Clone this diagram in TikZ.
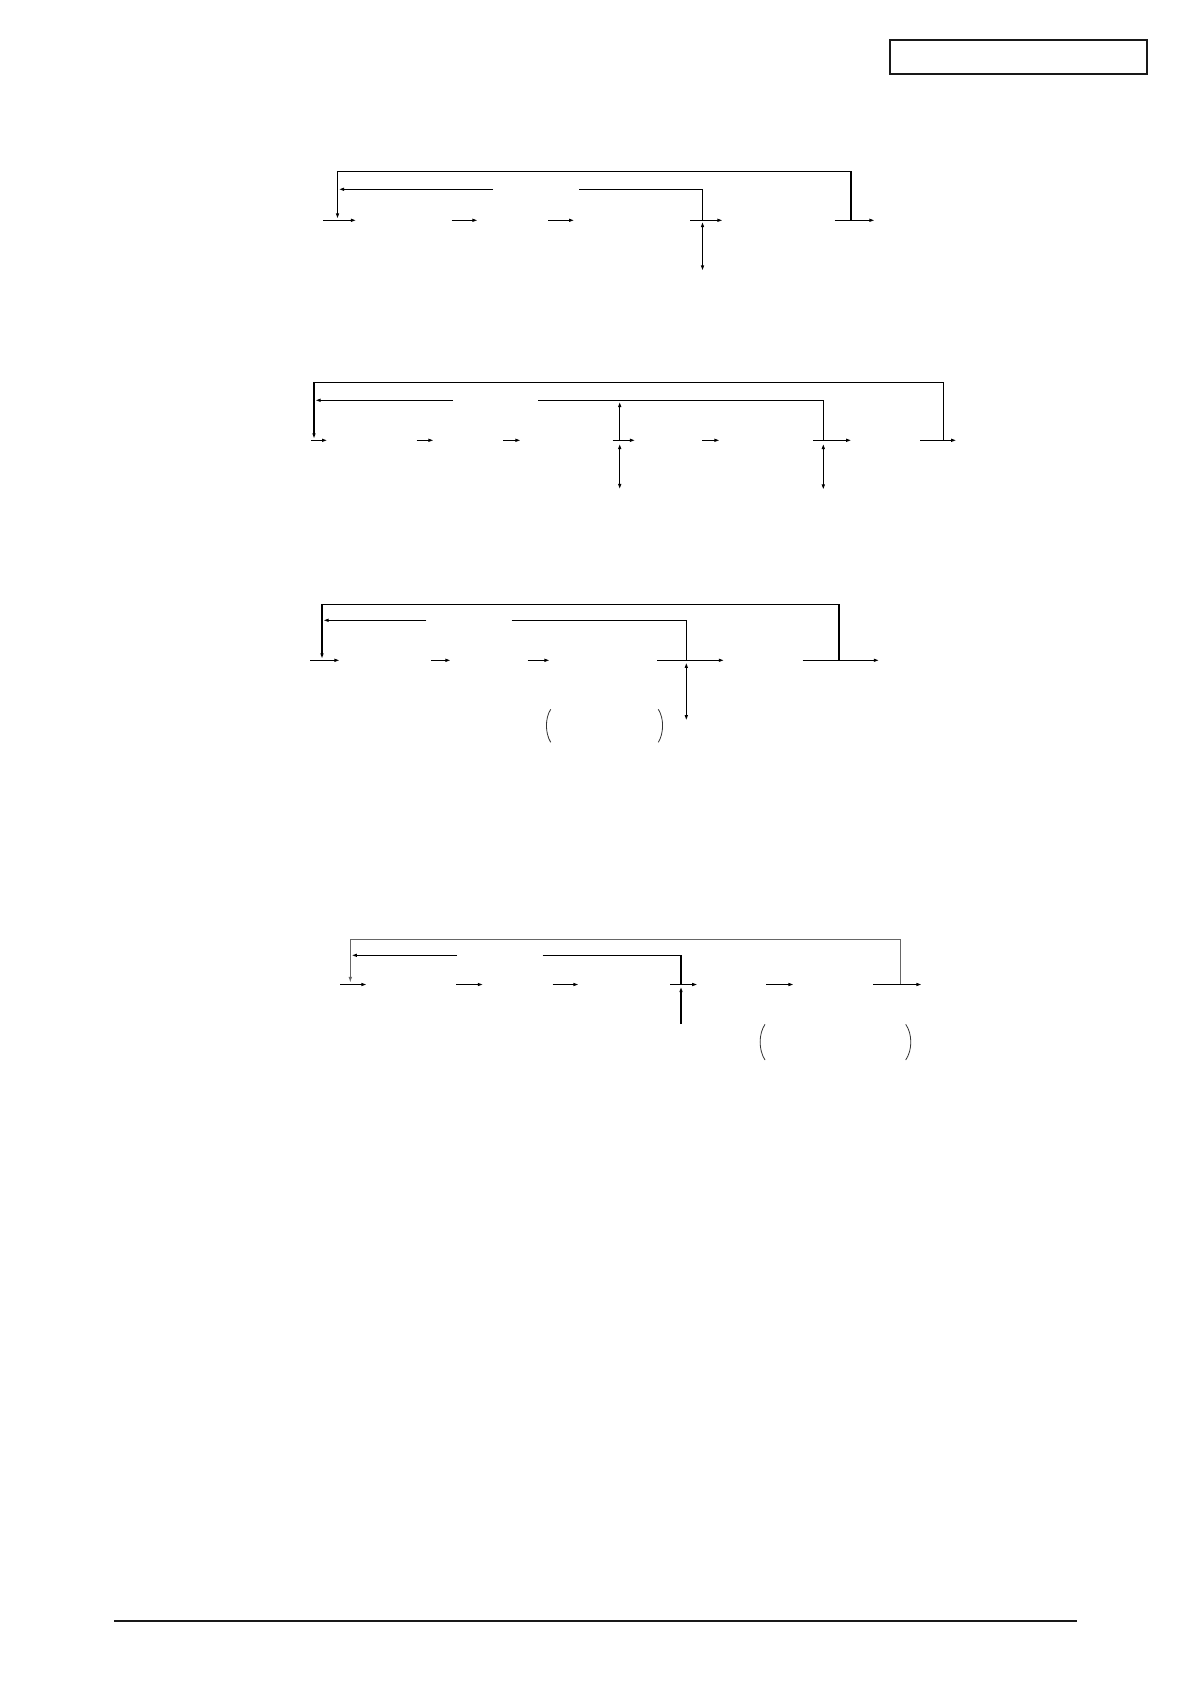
\documentclass[tikz,border=0pt]{standalone}
\usetikzlibrary{arrows.meta}
\begin{document}
\begin{tikzpicture}[x=0.5pt,y=-0.5pt,
  ln/.style={line width=0.6pt,black},
  thinln/.style={line width=0.4pt,black!80},
  grayln/.style={line width=0.45pt,black!60},
  arr/.style={-{Latex[length=2.8pt,width=1.8pt]}},
  darr/.style={{Latex[length=2.8pt,width=1.8pt]}-{Latex[length=2.8pt,width=1.8pt]}},
  frame/.style={line width=1pt,black!90}]
\useasboundingbox (0,0) rectangle (1191,1684);
\fill[white] (0,0) rectangle (1191,1684);

% header box and footer rule
\coordinate (boxA) at (890,40);
\coordinate (boxB) at (1147,74);
\draw[frame] (boxA) rectangle (boxB);
\coordinate (ruleA) at (114,1621);
\coordinate (ruleB) at (1077,1621);
\draw[frame] (ruleA) -- (ruleB);

% ================= diagram 1 =================
\coordinate (a1o1) at (851,220.3);
\coordinate (a1o2) at (851,171.3);
\coordinate (a1o3) at (337.5,171.3);
\coordinate (a1o4) at (337.5,219);
\draw[ln,arr] (a1o1) -- (a1o2) -- (a1o3) -- (a1o4);
\coordinate (a1i1) at (493,189.3);
\coordinate (a1i2) at (338.5,189.3);
\draw[ln,arr] (a1i1) -- (a1i2);
\coordinate (a1j1) at (579,189.3);
\coordinate (a1j2) at (702.5,189.3);
\coordinate (a1j3) at (702.5,220.3);
\draw[ln] (a1j1) -- (a1j2) -- (a1j3);
\foreach \s/\e [count=\k] in {323/356.5,451.5/478,548/574.6,690/723,834.6/875}{
  \coordinate (a1m\k s) at (\s,220.3);
  \coordinate (a1m\k e) at (\e,220.3);
  \draw[ln,arr] (a1m\k s) -- (a1m\k e);
}
\coordinate (a1d1) at (702.5,221.5);
\coordinate (a1d2) at (702.5,271);
\draw[ln,darr] (a1d1) -- (a1d2);

% ================= diagram 2 =================
\coordinate (a2o1) at (943.5,440.3);
\coordinate (a2o2) at (943.5,382.3);
\coordinate (a2o3) at (314,382.3);
\coordinate (a2o4) at (314,439);
\draw[ln,arr] (a2o1) -- (a2o2) -- (a2o3) -- (a2o4);
\coordinate (a2i1) at (453,400.3);
\coordinate (a2i2) at (315,400.3);
\draw[ln,arr] (a2i1) -- (a2i2);
\coordinate (a2j1) at (538,400.3);
\coordinate (a2j2) at (823.3,400.3);
\coordinate (a2j3) at (823.3,440.3);
\draw[ln] (a2j1) -- (a2j2) -- (a2j3);
\foreach \s/\e [count=\k] in {311/327.6,416.5/434,503/521,612.6/635.5,702/720,813/851.7,920/956.7}{
  \coordinate (a2m\k s) at (\s,440.3);
  \coordinate (a2m\k e) at (\e,440.3);
  \draw[ln,arr] (a2m\k s) -- (a2m\k e);
}
\coordinate (a2u1) at (619.7,440.3);
\coordinate (a2u2) at (619.7,401.5);
\draw[ln,arr] (a2u1) -- (a2u2);
\coordinate (a2d1) at (619.7,443.5);
\coordinate (a2d2) at (619.7,489.5);
\draw[ln,darr] (a2d1) -- (a2d2);
\coordinate (a2e1) at (823.3,443.5);
\coordinate (a2e2) at (823.3,490);
\draw[ln,darr] (a2e1) -- (a2e2);

% ================= diagram 3 =================
\coordinate (a3o1) at (839,660.3);
\coordinate (a3o2) at (839,604.3);
\coordinate (a3o3) at (322,604.3);
\coordinate (a3o4) at (322,659);
\draw[ln,arr] (a3o1) -- (a3o2) -- (a3o3) -- (a3o4);
\coordinate (a3i1) at (426.4,620.3);
\coordinate (a3i2) at (323,620.3);
\draw[ln,arr] (a3i1) -- (a3i2);
\coordinate (a3j1) at (511.5,620.3);
\coordinate (a3j2) at (686.3,620.3);
\coordinate (a3j3) at (686.3,660.3);
\draw[ln] (a3j1) -- (a3j2) -- (a3j3);
\foreach \s/\e [count=\k] in {310/340,431/451,527.5/550,657/724.4,802.7/879.4}{
  \coordinate (a3m\k s) at (\s,660.3);
  \coordinate (a3m\k e) at (\e,660.3);
  \draw[ln,arr] (a3m\k s) -- (a3m\k e);
}
\coordinate (a3d1) at (686.3,662.3);
\coordinate (a3d2) at (686.3,720.7);
\draw[ln,darr] (a3d1) -- (a3d2);
\coordinate (a3pl1) at (550.7,709.3);
\coordinate (a3pl2) at (550.7,742.3);
\draw[thinln] (a3pl1) .. controls (545,718) and (545,733) .. (a3pl2);
\coordinate (a3pr1) at (658.3,709.3);
\coordinate (a3pr2) at (658.3,742.3);
\draw[thinln] (a3pr1) .. controls (664,718) and (664,733) .. (a3pr2);

% ================= diagram 4 =================
\coordinate (a4o1) at (900,984.5);
\coordinate (a4o2) at (900,939.3);
\coordinate (a4o3) at (350.3,939.3);
\coordinate (a4o4) at (350.3,982.5);
\draw[grayln,arr] (a4o1) -- (a4o2) -- (a4o3) -- (a4o4);
\coordinate (a4i1) at (457,955.3);
\coordinate (a4i2) at (351.3,955.3);
\draw[ln,arr] (a4i1) -- (a4i2);
\coordinate (a4j1) at (542.7,955.3);
\coordinate (a4j2) at (681,955.3);
\coordinate (a4j3) at (681,984.5);
\draw[ln] (a4j1) -- (a4j2) -- (a4j3);
\foreach \s/\e [count=\k] in {340/367,456/483.4,552.6/579,670.4/697.8,766/794,873.4/922}{
  \coordinate (a4m\k s) at (\s,984.5);
  \coordinate (a4m\k e) at (\e,984.5);
  \draw[ln,arr] (a4m\k s) -- (a4m\k e);
}
\coordinate (a4u1) at (681,1024);
\coordinate (a4u2) at (681,986.5);
\draw[ln,arr] (a4u1) -- (a4u2);
\coordinate (a4pl1) at (765,1024.3);
\coordinate (a4pl2) at (765,1060);
\draw[thinln] (a4pl1) .. controls (758.5,1034) and (758.5,1050) .. (a4pl2);
\coordinate (a4pr1) at (905.7,1024.3);
\coordinate (a4pr2) at (905.7,1060);
\draw[thinln] (a4pr1) .. controls (912.5,1034) and (912.5,1050) .. (a4pr2);
\end{tikzpicture}
\end{document}
